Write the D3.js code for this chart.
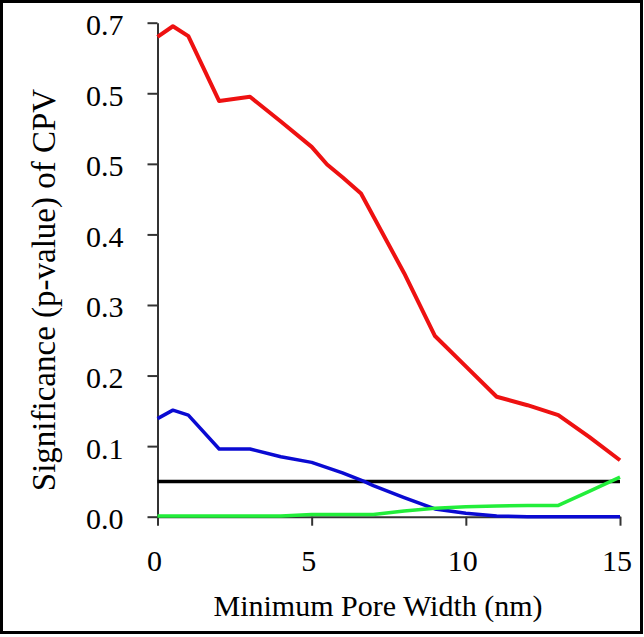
<!DOCTYPE html>
<html>
<head>
<meta charset="utf-8">
<script src="https://cdn.jsdelivr.net/npm/d3@7"></script>
</head>
<body style="margin:0">
<svg id="chart" width="644" height="637"></svg>
<script>
// ---- Data ----
const redX   = [0, 0.5, 1, 2, 3, 4, 5, 5.5, 6, 6.6, 8, 9, 10, 11, 12, 13, 14, 15];
const redY   = [0.680, 0.695, 0.681, 0.589, 0.595, 0.560, 0.524, 0.499, 0.481, 0.458, 0.345, 0.256, 0.213, 0.170, 0.158, 0.144, 0.113, 0.080];
const blueX  = [0, 0.5, 1, 2, 3, 4, 5, 6, 6.7, 7, 8, 9, 10, 11, 12, 13, 14, 15];
const blueY  = [0.139, 0.151, 0.144, 0.096, 0.096, 0.085, 0.077, 0.062, 0.050, 0.044, 0.027, 0.011, 0.005, 0.001, 0.000, 0.000, 0.000, 0.000];
const greenX = [0, 1, 2, 3, 4, 5, 6, 7, 8, 9, 10, 11, 12, 13, 14, 15];
const greenY = [0.001, 0.001, 0.001, 0.001, 0.001, 0.003, 0.003, 0.003, 0.008, 0.012, 0.014, 0.015, 0.016, 0.016, 0.036, 0.056];
const thresholdX = [0, 15];
const thresholdY = [0.05, 0.05];
const yTickValues = [0, 0.1, 0.2, 0.3, 0.4, 0.5, 0.6, 0.7];
const yTickLabels = ["0.0", "0.1", "0.2", "0.3", "0.4", "0.5", "0.5", "0.7"];
const xTickValues = [0, 5, 10, 15];
const xTickLabels = ["0", "5", "10", "15"];
const xTitle = "Minimum Pore Width (nm)";
const yTitle = "Significance (p-value) of CPV";

// ---- Drawing ----
const FONT = "Liberation Serif";
const svg = d3.select("#chart");

function addText(parent, str, size) {
  const t = parent.append("text")
    .attr("font-family", FONT).attr("font-size", size).attr("fill", "#000")
    .text(str);
  t.node().getComputedTextLength();
  return t;
}

svg.append("rect")
  .attr("x", 1.5).attr("y", 1.5).attr("width", 640).attr("height", 631)
  .attr("fill", "none").attr("stroke", "#000").attr("stroke-width", 3);

const x = d3.scaleLinear().domain([0, 15]).range([157.5, 620]);
const y = d3.scaleLinear().domain([0, 0.7]).range([516.7, 22.7]);

// y axis
const yAxis = d3.axisLeft(y)
  .tickValues(yTickValues)
  .tickFormat(() => "")
  .tickSizeInner(10).tickSizeOuter(0);
const gy = svg.append("g").attr("transform", "translate(157.5,0)").call(yAxis);
gy.selectAll(".tick text").remove();

// x axis
const xAxis = d3.axisBottom(x)
  .tickValues(xTickValues)
  .tickFormat(() => "")
  .tickSizeInner(9).tickSizeOuter(0);
const gx = svg.append("g").attr("transform", "translate(0,516.7)").call(xAxis);
gx.selectAll(".tick text").remove();

[gx, gy].forEach(g => {
  g.attr("font-family", FONT).attr("font-size", 30);
  g.select(".domain").attr("stroke", "#333").attr("stroke-width", 2);
  g.selectAll(".tick line").attr("stroke", "#333").attr("stroke-width", 2);
});

const line = d3.line().x(d => x(d[0])).y(d => y(d[1]));
function series(xs, ys, color, w) {
  svg.append("path")
    .datum(xs.map((v, i) => [v, ys[i]]))
    .attr("d", line)
    .attr("fill", "none")
    .attr("stroke", color)
    .attr("stroke-width", w)
    .attr("stroke-linejoin", "round");
}
series(thresholdX, thresholdY, "#000", 3.5);
series(blueX, blueY, "#0a0ad2", 3.5);
series(greenX, greenY, "#22ee3a", 3.5);
series(redX, redY, "#ee1111", 4);

// texts
yTickValues.forEach((v, i) => {
  addText(svg, yTickLabels[i], 30)
    .attr("x", 123.5).attr("y", y(v) + 12.5)
    .attr("text-anchor", "end");
});
xTickValues.forEach((v, i) => {
  addText(svg, xTickLabels[i], 30)
    .attr("x", x(v) - 3).attr("y", 571)
    .attr("text-anchor", "middle");
});
addText(svg, xTitle, 30)
  .attr("x", 378).attr("y", 616)
  .attr("text-anchor", "middle");
addText(svg, yTitle, 33)
  .attr("transform", "translate(55,290) rotate(-90)")
  .attr("text-anchor", "middle");

// re-apply the font once fonts are ready to force a repaint with the serif face
if (document.fonts && document.fonts.load) {
  document.fonts.load("30px 'Liberation Serif'").then(() => {
    svg.selectAll("text").attr("font-family", FONT);
  }).catch(() => {});
}
</script>
</body>
</html>
